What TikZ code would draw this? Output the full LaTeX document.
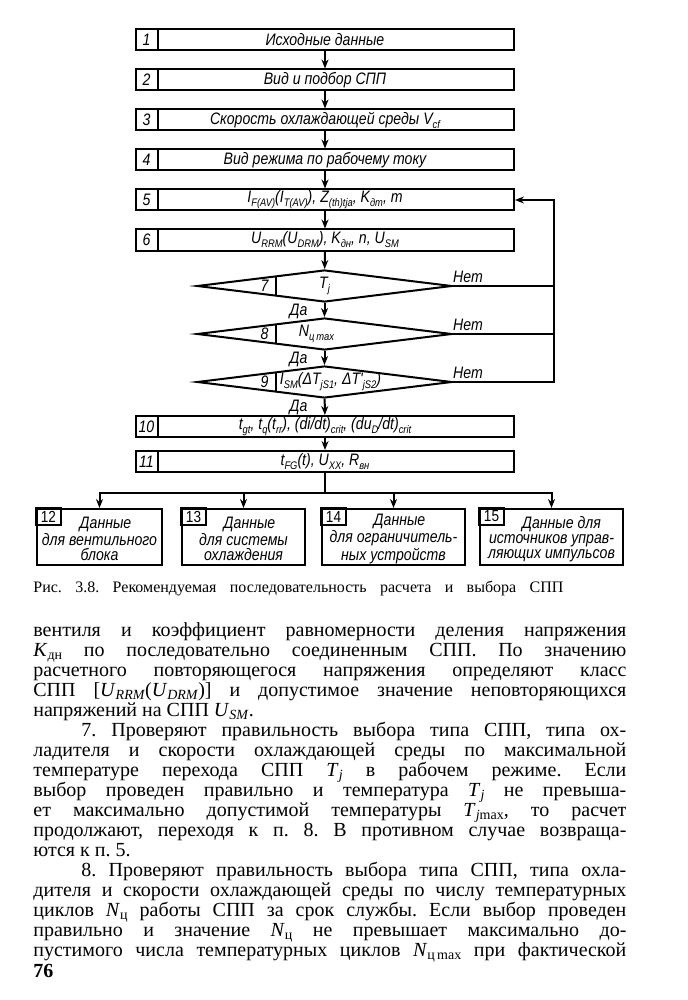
\documentclass[tikz,border=0pt]{standalone}
\usepackage{fontspec}
\setmainfont{Liberation Serif}
\newfontfamily\gost[FakeStretch=0.85]{Liberation Sans}
\usetikzlibrary{shapes.geometric,arrows.meta,positioning}
\frenchspacing

\newcommand\lo[1]{\raisebox{-0.45ex}{\fontsize{5.5}{6}\selectfont #1}}
\newcommand\sbs[1]{\raisebox{-0.4ex}{\fontsize{7}{7}\selectfont #1}}
\newcommand\jl[1]{\hbox to \hsize{#1}}
\newlength\pind
\setlength\pind{24pt}

\tikzset{
  blk/.style={draw, line width=1pt, minimum width=189pt, minimum height=10.5pt, inner sep=0pt, font=\gost\itshape\fontsize{8.3}{9}\selectfont},
  dia/.style={draw, diamond, line width=1pt, minimum width=127.5pt, minimum height=16pt, inner sep=0pt},
  lbl/.style={font=\gost\itshape\fontsize{8.3}{9}\selectfont, inner sep=0pt},
  outbox/.style={draw, line width=1pt, minimum height=28pt, inner sep=0pt},
  arr/.style={-{Stealth[length=4.5pt,width=3.5pt]}, line width=1pt},
}

\begin{document}
\begin{tikzpicture}[x=0.5pt, y=-0.5pt]
    \useasboundingbox (0,0) rectangle (687,1000);

    % Main blocks
    \foreach \i/\yy/\txt in {1/40/{Исходные данные},
                             2/80/{Вид и подбор СПП},
                             3/120/{Скорость охлаждающей среды V\lo{cf}},
                             4/160/{Вид режима по рабочему току},
                             5/200/{I\lo{F(AV)}(I\lo{T(AV)}), Z\lo{(th)tja}, K\lo{дт}, m},
                             6/240/{U\lo{RRM}(U\lo{DRM}), K\lo{дн}, n, U\lo{SM}},
                             10/426.5/{t\lo{gt}, t\lo{q}(t\lo{rr}), (di/dt)\lo{crit}, (du\lo{D}/dt)\lo{crit}},
                             11/461.5/{t\lo{FG}(t), U\lo{XX}, R\lo{вн}}} {
        \node[blk] (b\i) at (325,\yy) {\txt};
        \draw[line width=1pt] ([xshift=11.5pt]b\i.north west) -- ([xshift=11.5pt]b\i.south west);
        \node[lbl] at ([xshift=5.75pt]b\i.west) {\i};
    }

    % Checks
    \node[dia] (d7) at (324.5,286) {};
    \node[dia] (d8) at (324.5,334) {};
    \node[dia] (d9) at (324.5,382) {};
    \foreach \d/\n in {d7/7, d8/8, d9/9} {
        \draw[line width=1pt] ([shift={(-24.25pt,4.95pt)}]\d.center) -- ([shift={(-24.25pt,-4.95pt)}]\d.center);
        \node[lbl] at ([xshift=-30pt]\d.center) {\n};
        \node[lbl] at ([shift={(-13pt,-4pt)}]\d.south) {Да};
        \node[lbl] at ([shift={(7.5pt,4.5pt)}]\d.east) {Нет};
    }
    \node[lbl] at (d7.center) {T\lo{j}};
    \node[lbl] at ([xshift=-4pt]d8.center) {N\lo{ц\,max}};
    \node[lbl] at ([xshift=3pt]d9.center) {I\lo{SM}(ΔT\lo{jS1}, ΔT'\lo{jS2})};

    % Flow down
    \draw[arr] (b1) -- (b2);
    \draw[arr] (b2) -- (b3);
    \draw[arr] (b3) -- (b4);
    \draw[arr] (b4) -- (b5);
    \draw[arr] (b5) -- (b6);
    \draw[arr] (b6) -- (d7);
    \draw[arr] (d7) -- (d8);
    \draw[arr] (d8) -- (d9);
    \draw[arr] (d9) -- (b10);
    \draw[arr] (b10) -- (b11);

    % Return to block 5
    \coordinate (rt) at (554,382);
    \draw[line width=1pt] (d7.east) -- (d7.east -| rt);
    \draw[line width=1pt] (d8.east) -- (d8.east -| rt);
    \draw[arr] (d9.east) -- (rt) |- (b5.east);

    % Output data
    \node[outbox, minimum width=62.5pt] (o12) at (99.5,537) {};
    \node[outbox, minimum width=61.5pt] (o13) at (243.5,537) {};
    \node[outbox, minimum width=71.5pt] (o14) at (393.5,537) {};
    \node[outbox, minimum width=71.5pt] (o15) at (551.5,537) {};
    \foreach \o/\n/\txt in {o12/12/{\hspace*{6pt}Данные\\для вентильного\\блока},
                            o13/13/{\hspace*{6pt}Данные\\для системы\\охлаждения},
                            o14/14/{\hspace*{6pt}Данные\\для ограничитель-\\ных устройств},
                            o15/15/{\hspace*{10pt}Данные для\\источников управ-\\ляющих импульсов}} {
        \draw[line width=1pt] (\o.north west) rectangle ++(12.5pt,-8.5pt);
        \node[lbl, font=\gost\fontsize{8}{9}\selectfont] at ([shift={(6.25pt,-4.25pt)}]\o.north west) {\n};
        \node[lbl, align=center, font=\gost\itshape\fontsize{8.3}{7.5}\selectfont] at ([yshift=-1pt]\o.center) {\txt};
    }
    \coordinate (split) at (325,493);
    \draw[line width=1pt] (b11) -- (split);
    \draw[arr] (split) -| (o12.north);
    \draw[arr] (split) -| (o13.north);
    \draw[arr] (split) -| (o14.north);
    \draw[arr] (split) -| (o15.north);

    % Caption
    \node[anchor=base west, inner sep=0pt, font=\fontsize{8}{9}\selectfont] (cap) at (33,592)
        {\hbox to 265pt{Рис. 3.8. Рекомендуемая последовательность расчета и выбора СПП}};

    % Page text
    \node[anchor=base west, inner sep=0pt, font=\fontsize{10}{10}\selectfont] (body) at (33,636) {\vtop{\hsize=296.5pt
        \baselineskip=10pt \lineskiplimit=-20pt \lineskip=0pt
        \jl{вентиля и коэффициент равномерности деления напряжения}
        \jl{\textit{K}\sbs{дн} по последовательно соединенным СПП. По значению}
        \jl{расчетного повторяющегося напряжения определяют класс}
        \jl{СПП [\textit{U}\sbs{\textit{RRM}}(\textit{U}\sbs{\textit{DRM}})] и допустимое значение неповторяющихся}
        \hbox{напряжений на СПП \textit{U}\sbs{\textit{SM}}.}
        \jl{\hskip\pind 7. Проверяют правильность выбора типа СПП, типа ох-}
        \jl{ладителя и скорости охлаждающей среды по максимальной}
        \jl{температуре перехода СПП \textit{T}\sbs{\textit{j}} в рабочем режиме. Если}
        \jl{выбор проведен правильно и температура \textit{T}\sbs{\textit{j}} не превыша-}
        \jl{ет максимально допустимой температуры \textit{T}\sbs{\textit{j}max}, то расчет}
        \jl{продолжают, переходя к п. 8. В противном случае возвраща-}
        \hbox{ются к п. 5.}
        \jl{\hskip\pind 8. Проверяют правильность выбора типа СПП, типа охла-}
        \jl{дителя и скорости охлаждающей среды по числу температурных}
        \jl{циклов \textit{N}\sbs{ц} работы СПП за срок службы. Если выбор проведен}
        \jl{правильно и значение \textit{N}\sbs{ц} не превышает максимально до-}
        \jl{пустимого числа температурных циклов \textit{N}\sbs{ц\,max} при фактической}
    }};
    \node[anchor=base west, inner sep=0pt, font=\bfseries\fontsize{10}{12}\selectfont] (pg) at (33,977) {76};
\end{tikzpicture}
\end{document}
